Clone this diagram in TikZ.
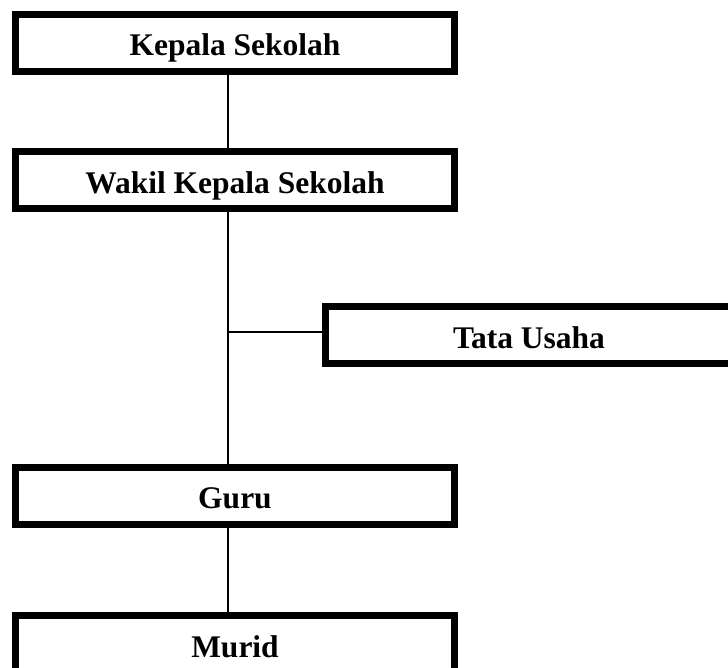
\documentclass[tikz,border=0pt]{standalone}
\usepackage{fontspec}
\setmainfont{Liberation Serif}
\begin{document}
\begin{tikzpicture}[x=1pt,y=-1pt,
  orgbox/.style={draw=black, line width=7pt, inner sep=0pt,
    minimum width=439pt, minimum height=57pt,
    font=\fontsize{31.5}{34}\selectfont\bfseries,
    text height=26pt, text depth=0pt},
  link/.style={draw=black, line width=1.6pt}]
\clip (0,0) rectangle (728,668);
\useasboundingbox (0,0) rectangle (728,668);
\coordinate (spine) at (228,0);
\node[orgbox] (kep) at (235,43) {Kepala Sekolah};
\node[orgbox] (wak) at (235,180.5) {Wakil Kepala Sekolah};
\node[orgbox, minimum width=407pt] (tata) at (529,335) {Tata Usaha};
\node[orgbox] (guru) at (235,495.5) {Guru};
\node[orgbox] (murid) at (235,644) {Murid};
\coordinate (j) at (228,332);
\begin{scope}[on background layer/.try]
\end{scope}
\draw[link] (kep.south -| spine) -- (wak.north -| spine);
\draw[link] (wak.south -| spine) -- (guru.north -| spine);
\draw[link] (j) -- (j -| tata.west);
\draw[link] (guru.south -| spine) -- (murid.north -| spine);
\end{tikzpicture}
\end{document}
